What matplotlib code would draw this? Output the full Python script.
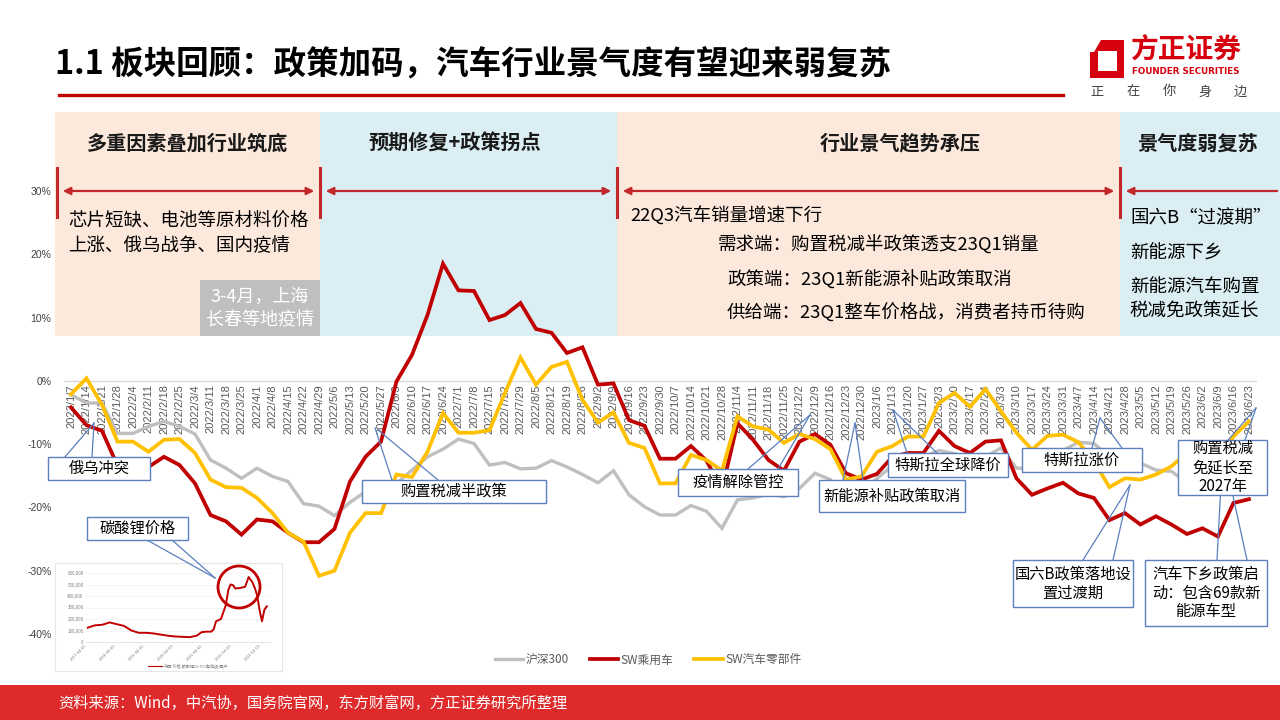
import matplotlib
matplotlib.use('Agg')
import matplotlib.pyplot as plt
from matplotlib.patches import Rectangle, FancyArrowPatch, Ellipse, Polygon
from matplotlib.lines import Line2D
import matplotlib.transforms as mtransforms
import pandas as pd

plt.rcParams['font.family'] = ['Noto Sans CJK SC', 'DejaVu Sans']

# ---------------- data ----------------
dates = ['2022/1/7', '2022/1/14', '2022/1/21', '2022/1/28', '2022/2/4', '2022/2/11', '2022/2/18', '2022/2/25',
         '2022/3/4', '2022/3/11', '2022/3/18', '2022/3/25', '2022/4/1', '2022/4/8', '2022/4/15', '2022/4/22',
         '2022/4/29', '2022/5/6', '2022/5/13', '2022/5/20', '2022/5/27', '2022/6/3', '2022/6/10', '2022/6/17',
         '2022/6/24', '2022/7/1', '2022/7/8', '2022/7/15', '2022/7/22', '2022/7/29', '2022/8/5', '2022/8/12',
         '2022/8/19', '2022/8/26', '2022/9/2', '2022/9/9', '2022/9/16', '2022/9/23', '2022/9/30', '2022/10/7',
         '2022/10/14', '2022/10/21', '2022/10/28', '2022/11/4', '2022/11/11', '2022/11/18', '2022/11/25',
         '2022/12/2', '2022/12/9', '2022/12/16', '2022/12/23', '2022/12/30', '2023/1/6', '2023/1/13',
         '2023/1/20', '2023/1/27', '2023/2/3', '2023/2/10', '2023/2/17', '2023/2/24', '2023/3/3', '2023/3/10',
         '2023/3/17', '2023/3/24', '2023/3/31', '2023/4/7', '2023/4/14', '2023/4/21', '2023/4/28', '2023/5/5',
         '2023/5/12', '2023/5/19', '2023/5/26', '2023/6/2', '2023/6/9', '2023/6/16', '2023/6/23']

hs300 = [-2.2, -3.5, -3.5, -8.3, -8.3, -7.2, -6.4, -7.2, -8.4, -12.5, -13.8, -15.4, -13.8, -15.1, -15.9,
         -19.4, -19.8, -21.3, -19.2, -17.5, -18.5, -16.2, -14.1, -12.0, -10.8, -9.2, -9.9, -13.3, -12.9,
         -13.9, -13.8, -12.6, -13.6, -14.8, -16.1, -14.2, -18.0, -19.9, -21.2, -21.2, -19.7, -20.6, -23.3,
         -18.8, -18.5, -17.9, -18.3, -17.0, -14.6, -15.6, -19.1, -17.5, -15.4, -13.4, -12.8, -12.0, -11.0,
         -11.5, -12.3, -12.0, -10.6, -13.8, -13.8, -12.2, -11.0, -9.7, -9.9, -12.0, -12.5, -13.0, -14.1,
         -14.3, -16.1, -15.6, -14.8, -14.1, -15.4]

sw_car = [-4.2, -7.0, -7.9, -13.4, -13.5, -13.6, -12.0, -13.3, -16.2, -21.2, -22.2, -24.3, -21.9, -22.2,
          -24.0, -25.5, -25.5, -23.4, -15.9, -12.0, -9.6, -0.1, 4.1, 10.4, 18.5, 14.3, 14.2, 9.6, 10.4, 12.3,
          8.2, 7.6, 4.4, 5.3, -0.6, -0.4, -6.2, -7.1, -12.3, -12.3, -10.3, -12.6, -17.2, -6.7, -9.3, -12.5,
          -14.2, -9.6, -8.4, -10.1, -14.6, -15.6, -14.7, -12.0, -11.4, -11.4, -7.9, -10.3, -11.4, -9.6, -9.4,
          -15.4, -18.0, -17.0, -16.1, -17.8, -18.5, -22.0, -20.9, -22.7, -21.4, -22.7, -24.2, -23.3, -24.6,
          -19.3, -18.7]

sw_parts = [-2.1, 0.4, -3.8, -9.6, -9.6, -11.2, -9.3, -9.2, -11.4, -15.6, -16.8, -16.9, -18.5, -20.9,
            -24.0, -25.4, -30.8, -30.0, -24.0, -20.9, -20.9, -14.8, -15.2, -11.2, -5.1, -8.2, -8.2, -7.8,
            -1.9, 3.7, -0.6, 2.2, 3.0, -3.0, -6.6, -5.0, -9.8, -10.6, -16.2, -16.2, -11.7, -12.5, -14.2,
            -5.6, -7.2, -7.7, -9.8, -8.4, -9.2, -10.8, -15.6, -15.1, -11.2, -10.3, -8.8, -8.8, -3.5, -1.9,
            -4.1, -1.3, -4.8, -8.2, -10.9, -8.7, -8.5, -9.7, -12.7, -16.8, -15.4, -15.6, -14.8, -13.5, -11.4,
            -12.4, -13.1, -8.8, -6.4]

series_names = ['沪深300', 'SW乘用车', 'SW汽车零部件']
series_colors = ['#BFBFBF', '#C00000', '#FFC000']
ytick_vals = [30, 20, 10, 0, -10, -20, -30, -40]
ytick_labels = ['30%', '20%', '10%', '0%', '-10%', '-20%', '-30%', '-40%']

lithium_dates = ['2017-04-05', '2017-07-05', '2017-10-05', '2018-01-05', '2018-04-05', '2018-07-05',
                 '2018-10-05', '2019-01-05', '2019-04-05', '2019-07-05', '2019-10-05', '2020-01-05',
                 '2020-04-05', '2020-07-05', '2020-10-05', '2021-01-05', '2021-03-05', '2021-05-05',
                 '2021-07-05', '2021-08-05', '2021-09-05', '2021-11-05', '2022-01-05', '2022-02-05',
                 '2022-03-05', '2022-04-05', '2022-05-05', '2022-07-05', '2022-09-05', '2022-10-20',
                 '2022-12-05', '2023-01-05', '2023-02-05', '2023-03-05', '2023-04-05', '2023-05-05',
                 '2023-06-05']
lithium_price = [125000, 145000, 150000, 170000, 155000, 140000, 100000, 80000, 80000, 75000, 65000,
                 55000, 48000, 45000, 42000, 55000, 85000, 90000, 90000, 110000, 180000, 200000, 320000,
                 450000, 500000, 495000, 465000, 470000, 480000, 565000, 520000, 470000, 400000, 280000,
                 180000, 280000, 310000]
lithium_ticks = ['2017-04-05', '2018-04-05', '2019-04-05', '2020-04-05', '2021-04-05', '2022-04-05',
                 '2023-04-05']
lithium_yticks = [0, 100000, 200000, 300000, 400000, 500000, 600000]

# ---------------- figure helpers ----------------
W, H = 1280, 720
fig = plt.figure(figsize=(12.8, 7.2), dpi=100)


def fx(x):
    return x / W


def fy(y):
    return 1 - y / H


def frect(x0, y0, x1, y1, **kw):
    r = Rectangle((fx(x0), fy(y1)), (x1 - x0) / W, (y1 - y0) / H, transform=fig.transFigure, **kw)
    fig.add_artist(r)
    return r


def fline(xs, ys, **kw):
    l = Line2D([fx(x) for x in xs], [fy(y) for y in ys], transform=fig.transFigure, **kw)
    fig.add_artist(l)
    return l


def ftext(x, y, s, **kw):
    return fig.text(fx(x), fy(y), s, **kw)


PEACH = '#FDE9DC'
BLUE = '#DAEEF3'
RED = '#C0282B'

# ---------------- background bands ----------------
bands = [(55, 320, PEACH, '多重因素叠加行业筑底', 188),
         (320, 617, BLUE, '预期修复+政策拐点', 455),
         (617, 1120, PEACH, '行业景气趋势承压', 900),
         (1120, 1280, BLUE, '景气度弱复苏', 1198)]
for x0, x1, c, t, tx in bands:
    frect(x0, 112, x1, 336, facecolor=c, edgecolor='none', zorder=-2)
    ftext(tx, 143, t, ha='center', va='center', fontsize=14.5, fontweight='bold', color='#1a1a1a', zorder=3)

# separators and arrows
for xs in [57, 320, 617, 1120]:
    fline([xs, xs], [168, 217], color=RED, lw=2.2, zorder=-1)
for a, b, st in [(60, 317, '<|-|>'), (323, 614, '<|-|>'), (620, 1117, '<|-|>'), (1123, 1280, '<|-')]:
    arr = FancyArrowPatch((fx(a), fy(191)), (fx(b), fy(191)), transform=fig.transFigure,
                          arrowstyle=st, mutation_scale=11, color=RED, lw=1.6, zorder=-1)
    fig.add_artist(arr)

# gray box
frect(200, 280, 320, 336, facecolor='#BFBFBF', edgecolor='none', zorder=-1)
ftext(260, 297, '3-4月，上海', ha='center', va='center', fontsize=13, color='white')
ftext(260, 320, '长春等地疫情', ha='center', va='center', fontsize=13, color='white')

# band texts
ftext(68, 222, '芯片短缺、电池等原材料价格', ha='left', va='center', fontsize=13.3, color='black')
ftext(68, 246, '上涨、俄乌战争、国内疫情', ha='left', va='center', fontsize=13.3, color='black')
ftext(630, 216, '22Q3汽车销量增速下行', ha='left', va='center', fontsize=13.3, color='black')
ftext(718, 245, '需求端：购置税减半政策透支23Q1销量', ha='left', va='center', fontsize=13.3, color='black')
ftext(727, 280, '政策端：23Q1新能源补贴政策取消', ha='left', va='center', fontsize=13.3, color='black')
ftext(727, 313, '供给端：23Q1整车价格战，消费者持币待购', ha='left', va='center', fontsize=13.3, color='black')
ftext(1130, 218, '国六B“过渡期”', ha='left', va='center', fontsize=13.3, color='black')
ftext(1130, 254, '新能源下乡', ha='left', va='center', fontsize=13.3, color='black')
ftext(1130, 287, '新能源汽车购置', ha='left', va='center', fontsize=13.3, color='black')
ftext(1130, 311, '税减免政策延长', ha='left', va='center', fontsize=13.3, color='black')

# ---------------- main axes ----------------
ax = fig.add_axes([fx(64), fy(634), (1257 - 64) / W, (634 - 191) / H])
ax.set_facecolor('none')
ax.set_xlim(-0.452, 76.52)
ax.set_ylim(-40, 30)
for s in ax.spines.values():
    s.set_visible(False)
ax.axhline(0, color='#D9D9D9', lw=1.0, zorder=1)
ax.set_xticks([])
ax.set_yticks(ytick_vals)
ax.set_yticklabels(ytick_labels, fontsize=7.5, color='#404040', family='Liberation Sans')
ax.tick_params(axis='y', length=0, pad=9)

x = list(range(len(dates)))
off = mtransforms.offset_copy(ax.transData, fig=fig, x=0, y=-2.5, units='points')
for i, d in enumerate(dates):
    ax.text(i, 0, d, transform=off, rotation=90, ha='center', va='top', fontsize=8,
            color='#595959', family='Liberation Sans', zorder=2)

handles = []
for vals, name, col, lw in zip([hs300, sw_car, sw_parts], series_names, series_colors, [2.4, 2.7, 2.7]):
    h, = ax.plot(x, vals, color=col, lw=lw, label=name, solid_joinstyle='miter', zorder=3)
    handles.append(h)

fig.legend(handles=handles, loc='center', bbox_to_anchor=(fx(648), fy(660)), ncol=3, frameon=False,
           fontsize=8.5, handlelength=2.4, columnspacing=1.8, handletextpad=0.2, labelcolor='#595959')

# ---------------- inset (lithium carbonate price) ----------------
frect(55, 563, 282, 671, facecolor='white', edgecolor='#E6E6E6', lw=0.8, zorder=1.5)
iax = fig.add_axes([fx(85), fy(642), (270 - 85) / W, (642 - 573) / H], zorder=2)
iax.set_facecolor('none')
ld = pd.to_datetime(lithium_dates)
iax.plot(ld, lithium_price, color='#C00000', lw=1.4)
iax.set_ylim(0, 600000)
iax.set_xlim(pd.Timestamp('2017-03-01'), pd.Timestamp('2023-07-15'))
iax.set_yticks(lithium_yticks)
iax.set_yticklabels([f'{v:,}' for v in lithium_yticks], fontsize=3.2, color='#7F7F7F')
iax.set_xticks(pd.to_datetime(lithium_ticks))
iax.set_xticklabels(lithium_ticks, fontsize=3.0, color='#7F7F7F', rotation=45, ha='right')
iax.tick_params(length=0, pad=1)
iax.grid(axis='y', color='#F0F0F0', lw=0.4)
for k, s in iax.spines.items():
    s.set_visible(k == 'bottom')
iax.spines['bottom'].set_color('#D9D9D9')
iax.spines['bottom'].set_linewidth(0.5)
fline([148, 162], [666, 666], color='#C00000', lw=0.8, zorder=2.2)
ftext(164, 666, '中国:价格:碳酸锂99.5%电池级:国产', ha='left', va='center', fontsize=3.0, color='#7F7F7F', zorder=2.2)
circ = Ellipse((fx(239), fy(587)), 42 / W, 42 / H, transform=fig.transFigure, facecolor='none',
               edgecolor='#C00000', lw=2.0, zorder=2.6)
fig.add_artist(circ)

# ---------------- callout boxes ----------------
BOXC = '#5B7FBF'
callouts = [
    ((48, 457, 150, 480), '俄乌冲突', [(65, 457, 94, 423), (92, 457, 94, 423)]),
    ((87, 517, 188, 540), '碳酸锂价格', [(147, 540, 215, 578), (172, 540, 215, 578)]),
    ((362, 480, 546, 503), '购置税减半政策', [(392, 480, 375, 428), (438, 480, 378, 430)]),
    ((678, 469, 798, 496), '疫情解除管控', [(748, 469, 810, 415), (778, 469, 810, 415)]),
    ((819, 480, 965, 512), '新能源补贴政策取消', [(843, 480, 855, 423), (863, 480, 855, 423)]),
    ((888, 453, 1008, 477), '特斯拉全球降价', [(907, 453, 893, 410), (937, 453, 893, 410)]),
    ((1022, 448, 1142, 472), '特斯拉涨价', [(1092, 448, 1100, 418), (1122, 448, 1100, 418)]),
    ((1013, 560, 1133, 607), '国六B政策落地设\n置过渡期', [(1083, 560, 1130, 485), (1113, 560, 1130, 485)]),
    ((1145, 560, 1267, 626), '汽车下乡政策启\n动：包含69款新\n能源车型', [(1217, 560, 1222, 464), (1247, 560, 1226, 464)]),
    ((1178, 440, 1267, 495), '购置税减\n免延长至\n2027年', [(1228, 440, 1256, 408), (1245, 440, 1256, 408)]),
]
for (x0, y0, x1, y1), txt, lines in callouts:
    for sx, sy, tx, ty in lines:
        fline([sx, tx], [sy, ty], color=BOXC, lw=0.9, zorder=2.7)
for (x0, y0, x1, y1), txt, lines in callouts:
    frect(x0, y0, x1, y1, facecolor='white', edgecolor=BOXC, lw=1.0, zorder=2.8)
    ftext((x0 + x1) / 2, (y0 + y1) / 2, txt, ha='center', va='center', fontsize=11, color='black',
          linespacing=1.15, zorder=2.9)

# ---------------- title & logo ----------------
ftext(55, 65, '1.1 板块回顾：政策加码，汽车行业景气度有望迎来弱复苏', ha='left', va='center',
      fontsize=23.4, fontweight='bold', color='black')
fline([59, 1063], [95, 95], color='#C00000', lw=2.4)

LOGO = '#D7000F'
fig.add_artist(Polygon([(fx(1090), fy(40)), (fx(1124), fy(40)), (fx(1124), fy(78)), (fx(1090), fy(78))],
                       closed=True, transform=fig.transFigure, facecolor=LOGO, edgecolor='none'))
fig.add_artist(Polygon([(fx(1098), fy(51)), (fx(1117), fy(51)), (fx(1117), fy(71)), (fx(1098), fy(71))],
                       closed=True, transform=fig.transFigure, facecolor='white', edgecolor='none'))
fig.add_artist(Polygon([(fx(1090), fy(40)), (fx(1101), fy(40)), (fx(1094), fy(52)), (fx(1090), fy(52))],
                       closed=True, transform=fig.transFigure, facecolor='white', edgecolor='none'))
ftext(1130, 51, '方正证券', ha='left', va='center', fontsize=20, fontweight='bold', color=LOGO)
ftext(1186, 72, 'FOUNDER SECURITIES', ha='center', va='center', fontsize=6.3, fontweight='bold',
      color=LOGO, family='DejaVu Sans')
for cx, ch in zip([1097, 1133, 1169, 1205, 1240], '正在你身边'):
    ftext(cx, 92, ch, ha='center', va='center', fontsize=9.5, color='#404040')

# ---------------- bottom bar ----------------
frect(0, 685, 1280, 720, facecolor='#DE2A2A', edgecolor='none', zorder=1)
ftext(58, 703, '资料来源：Wind，中汽协，国务院官网，东方财富网，方正证券研究所整理', ha='left', va='center',
      fontsize=11, color='white', zorder=2)

fig.savefig('out.png', dpi=100)
